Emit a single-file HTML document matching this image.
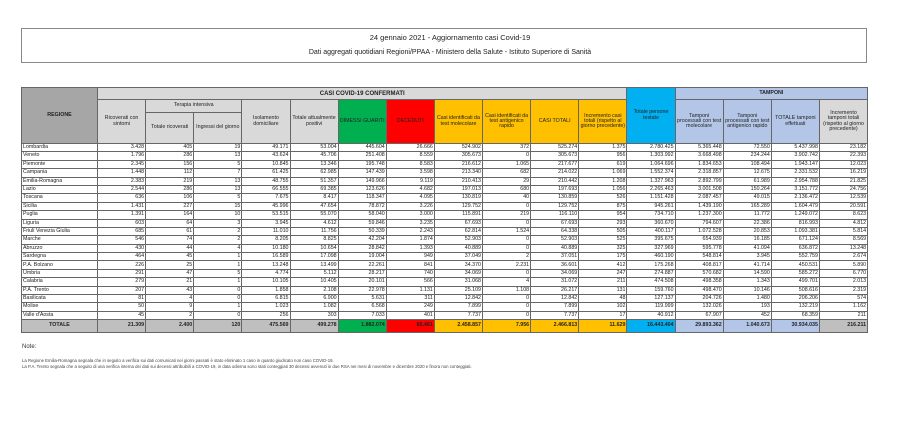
<!DOCTYPE html>
<html><head><meta charset="utf-8">
<style>
html,body{margin:0;padding:0;background:#fff;width:900px;height:437px;overflow:hidden;font-family:"Liberation Sans",sans-serif;}
.tbox{position:absolute;left:21px;top:28px;width:844px;height:33px;border:1px solid #888;}
.t1{position:absolute;left:0;width:900px;top:33px;text-align:center;font-size:7.5px;color:#222;}
.t2{position:absolute;left:0;width:900px;top:49px;text-align:center;font-size:7px;color:#222;}
table{position:absolute;left:21px;top:87px;width:846px;border-collapse:collapse;table-layout:fixed;font-size:5.3px;color:#222;}
td,th{border:1px solid #666;padding:0 1px;overflow:hidden;white-space:nowrap;line-height:1;}
th{font-weight:normal;background:#d9d9d9;text-align:center;white-space:normal;}
tr.d td{height:7.4px;text-align:right;background:#fff;}
tr.d td:first-child{text-align:left;}
tr.tot td{height:11.5px;background:#bfbfbf;font-weight:bold;text-align:right;}
tr.tot td:first-child{text-align:center;}
.g{background:#00b050!important;} .r{background:#ff0000!important;} .o{background:#ffc000!important;}
.b{background:#00b0f0!important;} .lb{background:#b4c6e7!important;}
.notes{position:absolute;left:22px;top:344px;font-size:6px;color:#333;}
.n{position:absolute;left:22px;font-size:4.3px;color:#444;white-space:nowrap;}
</style></head><body>
<div class="tbox"></div>
<div class="t1">24 gennaio 2021 - Aggiornamento casi Covid-19</div>
<div class="t2">Dati aggregati quotidiani Regioni/PPAA - Ministero della Salute - Istituto Superiore di Sanità</div>
<table>
<colgroup><col style="width:76px"><col span="16" style="width:48.125px"></colgroup>
<tr style="height:12px"><th rowspan="3" style="background:#a6a6a6;font-weight:bold">REGIONE</th><th colspan="11" style="font-weight:bold;font-size:6px">CASI COVID-19 CONFERMATI</th><th rowspan="3" class="b">Totale persone testate</th><th colspan="4" class="lb" style="font-weight:bold">TAMPONI</th></tr>
<tr style="height:13px"><th rowspan="2">Ricoverati con sintomi</th><th colspan="2">Terapia intensiva</th><th rowspan="2">Isolamento domiciliare</th><th rowspan="2">Totale attualmente positivi</th><th rowspan="2" class="g">DIMESSI GUARITI</th><th rowspan="2" class="r">DECEDUTI</th><th rowspan="2" class="o">Casi identificati da test molecolare</th><th rowspan="2" class="o">Casi identificati da test antigenico rapido</th><th rowspan="2" class="o">CASI TOTALI</th><th rowspan="2" class="o">Incremento casi totali (rispetto al giorno precedente)</th><th rowspan="2" class="lb">Tamponi processati con test molecolare</th><th rowspan="2" class="lb">Tamponi processati con test antigenico rapido</th><th rowspan="2" class="lb">TOTALE tamponi effettuati</th><th rowspan="2">Incremento tamponi totali (rispetto al giorno precedente)</th></tr>
<tr style="height:31px"><th>Totale ricoverati</th><th>Ingressi del giorno</th></tr>
<tr class="d"><td>Lombardia</td><td>3.428</td><td>405</td><td>19</td><td>49.171</td><td>53.004</td><td>445.604</td><td>26.666</td><td>524.902</td><td>372</td><td>525.274</td><td>1.375</td><td>2.780.425</td><td>5.365.448</td><td>72.550</td><td>5.437.998</td><td>23.182</td></tr>
<tr class="d"><td>Veneto</td><td>1.796</td><td>286</td><td>13</td><td>43.624</td><td>45.706</td><td>251.408</td><td>8.559</td><td>305.673</td><td>0</td><td>305.673</td><td>956</td><td>1.303.992</td><td>3.668.498</td><td>234.244</td><td>3.902.742</td><td>22.393</td></tr>
<tr class="d"><td>Piemonte</td><td>2.345</td><td>156</td><td>5</td><td>10.845</td><td>13.346</td><td>195.748</td><td>8.583</td><td>216.612</td><td>1.065</td><td>217.677</td><td>619</td><td>1.064.696</td><td>1.834.653</td><td>108.494</td><td>1.943.147</td><td>12.023</td></tr>
<tr class="d"><td>Campania</td><td>1.448</td><td>112</td><td>7</td><td>61.425</td><td>62.985</td><td>147.439</td><td>3.598</td><td>213.340</td><td>682</td><td>214.022</td><td>1.069</td><td>1.552.374</td><td>2.318.857</td><td>12.675</td><td>2.331.532</td><td>16.219</td></tr>
<tr class="d"><td>Emilia-Romagna</td><td>2.383</td><td>219</td><td>13</td><td>48.755</td><td>51.357</td><td>149.966</td><td>9.119</td><td>210.413</td><td>29</td><td>210.442</td><td>1.208</td><td>1.327.963</td><td>2.892.799</td><td>61.989</td><td>2.954.788</td><td>21.825</td></tr>
<tr class="d"><td>Lazio</td><td>2.544</td><td>286</td><td>13</td><td>66.555</td><td>69.385</td><td>123.626</td><td>4.682</td><td>197.013</td><td>680</td><td>197.693</td><td>1.056</td><td>2.265.463</td><td>3.001.508</td><td>150.264</td><td>3.151.772</td><td>24.756</td></tr>
<tr class="d"><td>Toscana</td><td>636</td><td>106</td><td>5</td><td>7.675</td><td>8.417</td><td>118.347</td><td>4.095</td><td>130.819</td><td>40</td><td>130.859</td><td>526</td><td>1.151.428</td><td>2.087.457</td><td>49.015</td><td>2.136.472</td><td>12.539</td></tr>
<tr class="d"><td>Sicilia</td><td>1.431</td><td>227</td><td>15</td><td>45.996</td><td>47.654</td><td>78.872</td><td>3.226</td><td>129.752</td><td>0</td><td>129.752</td><td>875</td><td>945.261</td><td>1.439.190</td><td>165.289</td><td>1.604.479</td><td>20.591</td></tr>
<tr class="d"><td>Puglia</td><td>1.391</td><td>164</td><td>10</td><td>53.515</td><td>55.070</td><td>58.040</td><td>3.000</td><td>115.891</td><td>219</td><td>116.110</td><td>954</td><td>734.710</td><td>1.237.300</td><td>11.772</td><td>1.249.072</td><td>8.623</td></tr>
<tr class="d"><td>Liguria</td><td>603</td><td>64</td><td>3</td><td>3.945</td><td>4.612</td><td>59.846</td><td>3.235</td><td>67.693</td><td>0</td><td>67.693</td><td>293</td><td>360.670</td><td>794.607</td><td>22.386</td><td>816.993</td><td>4.812</td></tr>
<tr class="d"><td>Friuli Venezia Giulia</td><td>685</td><td>61</td><td>2</td><td>11.010</td><td>11.756</td><td>50.339</td><td>2.243</td><td>62.814</td><td>1.524</td><td>64.338</td><td>505</td><td>400.117</td><td>1.072.528</td><td>20.853</td><td>1.093.381</td><td>5.814</td></tr>
<tr class="d"><td>Marche</td><td>546</td><td>74</td><td>2</td><td>8.205</td><td>8.825</td><td>42.204</td><td>1.874</td><td>52.903</td><td>0</td><td>52.903</td><td>525</td><td>395.675</td><td>654.939</td><td>16.185</td><td>671.124</td><td>8.569</td></tr>
<tr class="d"><td>Abruzzo</td><td>430</td><td>44</td><td>4</td><td>10.180</td><td>10.654</td><td>28.842</td><td>1.393</td><td>40.889</td><td>0</td><td>40.889</td><td>325</td><td>327.969</td><td>595.778</td><td>41.094</td><td>636.872</td><td>13.248</td></tr>
<tr class="d"><td>Sardegna</td><td>464</td><td>45</td><td>1</td><td>16.589</td><td>17.098</td><td>19.004</td><td>949</td><td>37.049</td><td>2</td><td>37.051</td><td>175</td><td>460.190</td><td>548.814</td><td>3.945</td><td>552.759</td><td>2.674</td></tr>
<tr class="d"><td>P.A. Bolzano</td><td>226</td><td>25</td><td>1</td><td>13.248</td><td>13.499</td><td>22.261</td><td>841</td><td>34.370</td><td>2.231</td><td>36.601</td><td>412</td><td>175.268</td><td>408.817</td><td>41.714</td><td>450.531</td><td>5.890</td></tr>
<tr class="d"><td>Umbria</td><td>291</td><td>47</td><td>5</td><td>4.774</td><td>5.112</td><td>28.217</td><td>740</td><td>34.069</td><td>0</td><td>34.069</td><td>247</td><td>274.887</td><td>570.682</td><td>14.590</td><td>585.272</td><td>6.770</td></tr>
<tr class="d"><td>Calabria</td><td>279</td><td>21</td><td>1</td><td>10.105</td><td>10.405</td><td>20.101</td><td>566</td><td>31.068</td><td>4</td><td>31.072</td><td>211</td><td>474.508</td><td>498.358</td><td>1.343</td><td>499.701</td><td>2.013</td></tr>
<tr class="d"><td>P.A. Trento</td><td>207</td><td>43</td><td>0</td><td>1.858</td><td>2.108</td><td>22.978</td><td>1.131</td><td>25.109</td><td>1.108</td><td>26.217</td><td>131</td><td>159.760</td><td>498.470</td><td>10.146</td><td>508.616</td><td>2.319</td></tr>
<tr class="d"><td>Basilicata</td><td>81</td><td>4</td><td>0</td><td>6.815</td><td>6.900</td><td>5.631</td><td>311</td><td>12.842</td><td>0</td><td>12.842</td><td>48</td><td>127.137</td><td>204.726</td><td>1.480</td><td>206.206</td><td>574</td></tr>
<tr class="d"><td>Molise</td><td>50</td><td>9</td><td>1</td><td>1.023</td><td>1.082</td><td>6.568</td><td>249</td><td>7.899</td><td>0</td><td>7.899</td><td>102</td><td>119.999</td><td>132.026</td><td>193</td><td>132.219</td><td>1.162</td></tr>
<tr class="d"><td>Valle d'Aosta</td><td>45</td><td>2</td><td>0</td><td>256</td><td>303</td><td>7.033</td><td>401</td><td>7.737</td><td>0</td><td>7.737</td><td>17</td><td>40.912</td><td>67.907</td><td>452</td><td>68.359</td><td>211</td></tr>
<tr class="tot"><td>TOTALE</td><td>21.309</td><td>2.400</td><td>120</td><td>475.569</td><td>499.278</td><td class="g">1.882.074</td><td class="r">85.461</td><td class="o">2.458.857</td><td class="o">7.956</td><td class="o">2.466.813</td><td class="o">11.629</td><td class="b">16.443.404</td><td class="lb">29.893.362</td><td class="lb">1.040.673</td><td class="lb">30.934.035</td><td>216.211</td></tr>
</table>
<div class="notes">Note:</div>
<div class="n" style="top:358px">La Regione Emilia-Romagna segnala che in seguito a verifica sui dati comunicati nei giorni passati è stato eliminato 1 caso in quanto giudicato non caso COVID-19.</div>
<div class="n" style="top:364px">La P.A. Trento segnala che a seguito di una verifica interna dei dati sui decessi attribuibili a COVID-19, in data odierna sono stati conteggiati 30 decessi avvenuti in due RSA nei mesi di novembre e dicembre 2020 e finora non conteggiati.</div>
</body></html>
